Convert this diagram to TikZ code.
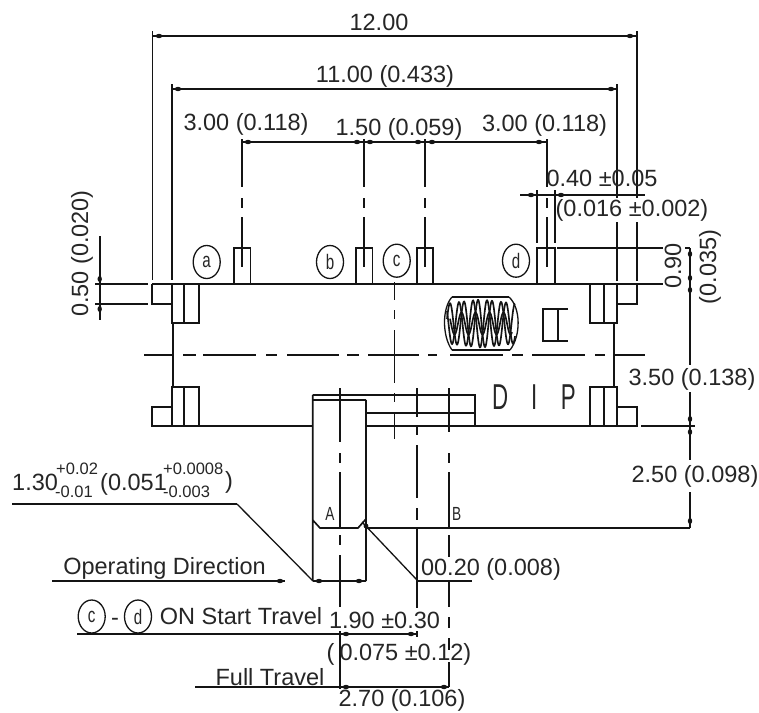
\documentclass[tikz,border=0pt]{standalone}
\usepackage{fontspec}
\usetikzlibrary{shapes.geometric}
\setmainfont{Liberation Sans}
\definecolor{ink}{gray}{0.08}
\definecolor{txt}{gray}{0.15}
\tikzset{
  ln/.style={draw=ink,line width=1.65pt},
  thin ln/.style={draw=ink,line width=1.3pt},
  dimtext/.style={inner sep=0pt,text=txt,text height=16pt,text depth=0pt,font=\fontsize{23.5}{26}\selectfont},
  smalltext/.style={inner sep=0pt,text=txt,anchor=west,text height=11pt,text depth=0pt,font=\fontsize{16.5}{18}\selectfont},
  mark circle/.style={ellipse,draw=ink,line width=1.3pt,minimum width=27pt,minimum height=33pt,inner sep=0pt,text=txt,font=\fontsize{21}{24}\selectfont},
  tag/.style={inner sep=0pt,text=txt,font=\fontsize{19}{22}\selectfont}
}
\newcommand{\sq}[1]{\scalebox{.72}[1]{#1}}
\begin{document}
\begin{tikzpicture}[x=1pt,y=-1pt]
\useasboundingbox (0,0) rectangle (759,712);
\fill[white] (0,0) rectangle (759,712);
% dimension lines: horizontal
\path[ln] (152.5,36)--(637,36) (172,89)--(617,89) (242,142)--(547,142) (520,195)--(645,195)
  (312.7,581)--(366,581) (417,581)--(472,581) (52,581)--(285,581)
  (77,634)--(417,634) (195,687)--(449,687) (12,504)--(237,504)
  (557,248)--(663,248) (641,426)--(695,426) (366,528)--(690,528)
  (95,284)--(148,284) (95,304)--(148,304) (685,248)--(690,248);
% extension lines
\path[ln] (152.5,31)--(152.5,280) (172,84)--(172,280)
  (617,84)--(617,198) (617,222)--(617,281)
  (637,31)--(637,198) (637,222)--(637,281)
  (537,190)--(537,243) (555,190)--(555,243)
  (99.7,236)--(99.7,320)
  (690,248)--(690,365) (690,392)--(690,460) (690,492)--(690,528)
  (340,631)--(340,689) (417,631)--(417,637);
% pin centre lines
\foreach \x in {242,364,425,547}{
  \path[ln] (\x,139)--(\x,187) (\x,198)--(\x,208) (\x,217)--(\x,267);
}
% pins
\path[ln] (234,284)--(234,248)--(250.5,248)--(250.5,284)
  (356,284)--(356,248)--(372.5,248)--(372.5,284)
  (417,284)--(417,248)--(433,248)--(433,284)
  (537,284)--(537,248)--(555,248)--(555,284);
% body
\path[ln] (152,284)--(663,284) (152,284)--(152,304)--(172,304)
  (172,284)--(172,323)--(199,323)--(199,284) (184,284)--(184,323)
  (173,323)--(173,387)
  (172,426)--(172,387)--(199,387)--(199,426) (184,387)--(184,426)
  (172,407)--(152,407)--(152,426)--(312.7,426)
  (366,426)--(637,426)--(637,407)--(617,407)
  (590,426)--(590,387)--(617,387)--(617,426) (604,387)--(604,426)
  (590,284)--(590,323)--(617,323)--(617,284) (604,284)--(604,323)
  (617,304)--(637,304)--(637,284)
  (614,323)--(614,387);
% centre line
\path[ln] (144,355)--(172,355) (183,355)--(196,355) (203,355)--(256,355) (266,355)--(277,355)
  (287,355)--(339,355) (347,355)--(359,355) (368,355)--(419,355) (428,355)--(437,355)
  (450,355)--(503,355) (512,355)--(523,355) (532,355)--(585,355) (595,355)--(605,355)
  (614,355)--(645,355);
% slider
\path[ln] (312.7,395)--(475,395)--(475,426) (312.7,400)--(366,400)
  (312.7,395)--(312.7,581) (366,400)--(366,581) (366,413)--(475,413)
  (312.7,520)--(320,528)--(358,528)--(366,519);
% slider centre lines
\path[ln] (340,388)--(340,442) (340,453)--(340,463) (340,472)--(340,528) (340,535)--(340,545) (340,555)--(340,607);
\path[ln] (394.5,282)--(394.5,300) (394.5,310)--(394.5,319) (394.5,330)--(394.5,383) (394.5,393)--(394.5,402) (394.5,412)--(394.5,439);
\path[ln] (417,388)--(417,417) (417,427)--(417,435) (417,445)--(417,498) (417,508)--(417,520) (417,528)--(417,608);
\path[ln] (449,388)--(449,432) (449,453)--(449,463) (449,472)--(449,528) (449,535)--(449,557) (449,582)--(449,607) (449,617)--(449,628) (449,638)--(449,650) (449,662)--(449,687);
% leaders
\path[thin ln] (237,504)--(313,581) (417,580)--(362,522);
% spring
\path[ln] (452,297)--(509,297) (452,350)--(510,350);
\path[thin ln] (452,297) .. controls (442,308) and (442,336) .. (452,350)
  (509,297) .. controls (521,308) and (521,336) .. (510,350);
\path[ln] plot[domain=447:515,samples=160,smooth] (\x,{323.5+(24-abs(\x-481)*0.12)*cos(25.7*(\x-457))});
\path[ln] plot[domain=447:515,samples=160,smooth] (\x,{323.5+(24-abs(\x-481)*0.12)*cos(25.7*(\x-452))});
\path[ln] plot[domain=450:512,samples=160,smooth] (\x,{323.5+11*cos(25.7*(\x-454.5))});
% small mark
\path[ln] (568,309)--(543,309)--(543,341)--(568,341) (558,309)--(558,341);
% blobs
\foreach \x/\y in {159/36,630/36,178/89,611/89,248/142,357/142,370/142,418/142,432/142,539/142,
  531/195,561/195,280/581,319/581,359/581,346/634,411/634,346/687,444/687}{
  \fill[ink] (\x,\y) ellipse (3.2pt and 2.2pt);
}
\foreach \x/\y in {99.7/279,99.7/309,690/254,690/278,690/290,690/419,690/432,690/521}{
  \fill[ink] (\x,\y) ellipse (2.2pt and 3pt);
}
\fill[ink] (366,526) circle (2.4pt);
% dimension texts
\node[dimtext] (t12) at (379,22.5) {12.00};
\node[dimtext] (t11) at (385,74) {11.00 (0.433)};
\node[dimtext] (t3a) at (246,122) {3.00 (0.118)};
\node[dimtext] (t15) at (399,127) {1.50 (0.059)};
\node[dimtext] (t3b) at (544.5,123) {3.00 (0.118)};
\node[dimtext] (t04) at (602,178) {0.40 ±0.05};
\node[dimtext] (t016) at (632,208) {(0.016 ±0.002)};
\node[dimtext] (t35) at (692,377) {3.50 (0.138)};
\node[dimtext] (t25) at (695,474) {2.50 (0.098)};
\node[dimtext,rotate=90] (t050) at (80,253.5) {0.50 (0.020)};
\node[dimtext,rotate=90] (t090) at (673,266) {0.90};
\node[dimtext,rotate=90] (t035) at (708,267) {(0.035)};
\node[dimtext] (t020) at (491,567.5) {00.20 (0.008)};
\node[dimtext] (t190) at (384.5,620) {1.90 ±0.30};
\node[dimtext] (t075) at (399,652) {(\hspace{5pt}0.075 ±0.12)};
\node[dimtext] (t270) at (402,698.5) {2.70 (0.106)};
\node[dimtext] (top) at (164.5,566) {Operating Direction};
\node[dimtext] (ton) at (241,616.5) {ON Start Travel};
\node[dimtext] (tfull) at (270,677) {Full Travel};
\node[dimtext] (tdash) at (115,617) {-};
% tolerance
\node[dimtext,anchor=west] (m1) at (12,482) {1.30};
\node[smalltext] (s1) at (56,469) {+0.02};
\node[smalltext] (s2) at (55,492) {-0.01};
\node[dimtext,anchor=west] (m2) at (100,482) {(0.051};
\node[smalltext] (s3) at (163,469) {+0.0008};
\node[smalltext] (s4) at (163,492) {-0.003};
\node[dimtext,anchor=west] (m3) at (225,480) {)};
% circled marks
\node[mark circle] (ca) at (206.7,262) {\sq{a}};
\node[mark circle] (cb) at (330,262) {\sq{b}};
\node[mark circle] (cc) at (396.7,260.7) {\sq{c}};
\node[mark circle] (cd) at (516,260.7) {\sq{d}};
\node[mark circle] (cc2) at (91.7,616.5) {\sq{c}};
\node[mark circle] (cd2) at (138,616.5) {\sq{d}};
% letters
\node[tag] (la) at (330,514) {\sq{A}};
\node[tag] (lb) at (456.7,514) {\sq{B}};
\node[inner sep=0pt,text=txt,font=\fontsize{36}{40}\selectfont] (dip) at (534,397) {\scalebox{.62}[1]{D\hspace{37pt}I\hspace{38pt}P}};
\end{tikzpicture}
\end{document}
